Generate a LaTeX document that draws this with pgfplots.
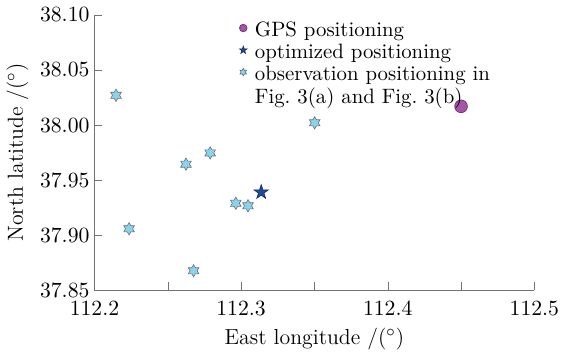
\documentclass[border=0pt]{standalone}
\usepackage{pgfplots}
\pgfplotsset{compat=1.18}
\definecolor{gpsfill}{RGB}{165,85,165}
\definecolor{gpsedge}{RGB}{120,50,120}
\definecolor{optfill}{RGB}{30,75,155}
\definecolor{optedge}{RGB}{15,40,95}
\definecolor{obsfill}{RGB}{140,210,235}
\definecolor{obsedge}{RGB}{100,110,120}
\pgfdeclareplotmark{hexagram}{%
  \pgfpathmoveto{\pgfpointpolar{90}{\pgfplotmarksize}}%
  \pgfpathlineto{\pgfpointpolar{120}{0.577\pgfplotmarksize}}%
  \pgfpathlineto{\pgfpointpolar{150}{\pgfplotmarksize}}%
  \pgfpathlineto{\pgfpointpolar{180}{0.577\pgfplotmarksize}}%
  \pgfpathlineto{\pgfpointpolar{210}{\pgfplotmarksize}}%
  \pgfpathlineto{\pgfpointpolar{240}{0.577\pgfplotmarksize}}%
  \pgfpathlineto{\pgfpointpolar{270}{\pgfplotmarksize}}%
  \pgfpathlineto{\pgfpointpolar{300}{0.577\pgfplotmarksize}}%
  \pgfpathlineto{\pgfpointpolar{330}{\pgfplotmarksize}}%
  \pgfpathlineto{\pgfpointpolar{0}{0.577\pgfplotmarksize}}%
  \pgfpathlineto{\pgfpointpolar{30}{\pgfplotmarksize}}%
  \pgfpathlineto{\pgfpointpolar{60}{0.577\pgfplotmarksize}}%
  \pgfpathclose
  \pgfusepathqfillstroke
}
\pgfdeclareplotmark{pentagram}{%
  \pgfpathmoveto{\pgfpointpolar{90}{\pgfplotmarksize}}%
  \pgfpathlineto{\pgfpointpolar{126}{0.382\pgfplotmarksize}}%
  \pgfpathlineto{\pgfpointpolar{162}{\pgfplotmarksize}}%
  \pgfpathlineto{\pgfpointpolar{198}{0.382\pgfplotmarksize}}%
  \pgfpathlineto{\pgfpointpolar{234}{\pgfplotmarksize}}%
  \pgfpathlineto{\pgfpointpolar{270}{0.382\pgfplotmarksize}}%
  \pgfpathlineto{\pgfpointpolar{306}{\pgfplotmarksize}}%
  \pgfpathlineto{\pgfpointpolar{342}{0.382\pgfplotmarksize}}%
  \pgfpathlineto{\pgfpointpolar{18}{\pgfplotmarksize}}%
  \pgfpathlineto{\pgfpointpolar{54}{0.382\pgfplotmarksize}}%
  \pgfpathclose
  \pgfusepathqfillstroke
}
\begin{document}
\begin{tikzpicture}
\begin{axis}[
  scale only axis,
  width=222pt, height=139pt,
  xmin=112.2, xmax=112.5,
  ymin=37.85, ymax=38.10,
  xtick={112.2,112.3,112.4,112.5},
  minor xtick={112.25,112.35,112.45},
  ytick={37.85,37.90,37.95,38.00,38.05,38.10},
  axis lines*=left,
  axis line style={-, draw=black!55},
  tick style={draw=black!55},
  tick align=inside,
  major tick length=4pt,
  minor tick length=4pt,
  tick label style={font=\fontsize{10.5}{12}\selectfont},
  xticklabel style={yshift=-2pt, /pgf/number format/.cd, fixed, fixed zerofill, precision=1},
  yticklabel style={xshift=1pt, /pgf/number format/.cd, fixed, fixed zerofill, precision=2},
  xlabel={East longitude /($^\circ$)},
  ylabel={North latitude /($^\circ$)},
  label style={font=\fontsize{11}{13}\selectfont},
  xlabel style={yshift=0.5pt},
  ylabel style={yshift=-1pt},
  clip=false,
  legend style={at={(0.311,1.0)}, anchor=north west, draw=none, fill=none,
    font=\fontsize{10.5}{11}\selectfont, row sep=-0.7pt,
    nodes={inner sep=1.5pt},
    /tikz/every odd column/.style={column sep=2.5pt}},
  legend cell align=left,
  legend image code/.code={\draw[mark repeat=2,mark phase=2,#1] plot coordinates {(0cm,1.5pt) (0.1cm,1.5pt) (0.2cm,1.5pt)};},
]
\addplot[only marks, mark=*, mark size=3.2pt, draw=gpsedge, fill=gpsfill, line width=0.4pt,
  legend image post style={mark size=1.9pt}]
  coordinates {(112.450,38.017)};
\addlegendentry{GPS positioning}
\addplot[only marks, mark=pentagram, mark size=3.8pt, draw=optedge, fill=optfill, line width=0.3pt,
  legend image post style={mark size=2pt}]
  coordinates {(112.3137,37.939)};
\addlegendentry{optimized positioning}
\addplot[only marks, mark=hexagram, mark size=3.1pt, draw=obsedge, fill=obsfill, line width=0.3pt,
  legend image post style={mark size=1.9pt}]
  coordinates {
  (112.2147,38.027)
  (112.3502,38.002)
  (112.2624,37.9645)
  (112.2789,37.9747)
  (112.2964,37.929)
  (112.3047,37.9267)
  (112.2236,37.9058)
  (112.2676,37.8677)
  };
\addlegendentry{observation positioning in}
\addlegendimage{empty legend}
\addlegendentry{Fig.\ 3(a) and Fig.\ 3(b)}
\end{axis}
\path (current axis.south west) ++(-45pt,-25pt) rectangle ++(286.5pt,171.5pt);
\end{tikzpicture}
\end{document}
